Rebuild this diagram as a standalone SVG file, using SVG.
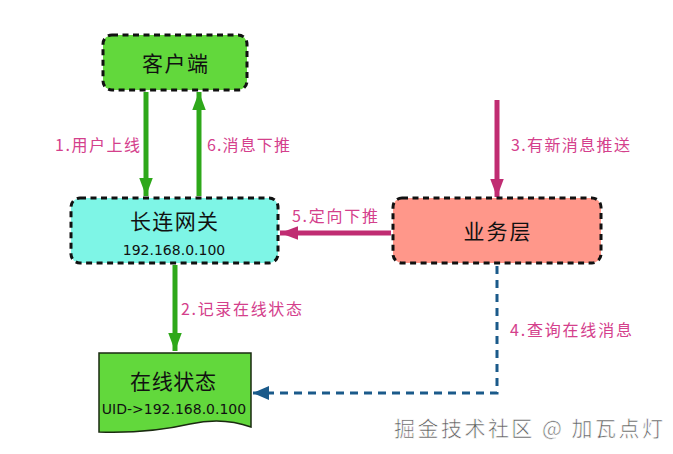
<svg xmlns="http://www.w3.org/2000/svg" width="673" height="454" viewBox="0 0 673 454">
<defs>
<style>
.box{stroke:#111;stroke-width:3;stroke-dasharray:6 4.5}
.nt{font-family:"Noto Sans CJK SC","Noto Sans",sans-serif;font-size:21px;fill:#111;text-anchor:middle}
.ns{font-family:"DejaVu Sans","Noto Sans",sans-serif;font-size:14px;fill:#111;text-anchor:middle}
.lb{font-family:"Noto Sans CJK SC","Noto Sans",sans-serif;font-size:16px;fill:#d4408c}
.g{stroke:#2ea81a;stroke-width:5;fill:none}
.m{stroke:#c02c72;stroke-width:5;fill:none}
.b{stroke:#1a5a8a;stroke-width:3;fill:none;stroke-dasharray:8 6}
</style>
<marker id="ag" markerWidth="18" markerHeight="24" refX="24" refY="9" viewBox="0 0 24 18" orient="auto" markerUnits="userSpaceOnUse"><path d="M0,0 L24,9 L0,18 Z" fill="#2ea81a"/></marker>
<marker id="am" markerWidth="18" markerHeight="24" refX="24" refY="9" viewBox="0 0 24 18" orient="auto" markerUnits="userSpaceOnUse"><path d="M0,0 L24,9 L0,18 Z" fill="#c02c72"/></marker>
<marker id="ab" markerWidth="16" markerHeight="14" refX="16" refY="7" viewBox="0 0 16 14" orient="auto" markerUnits="userSpaceOnUse"><path d="M0,0 L16,7 L0,14 Z" fill="#1a5a8a"/></marker>
</defs>
<rect width="673" height="454" fill="#fff"/>
<g id="connectors">
<line class="g" x1="146" y1="92" x2="146" y2="196" marker-end="url(#ag)"/>
<line class="g" x1="199" y1="196" x2="199" y2="92" marker-end="url(#ag)"/>
<line class="g" x1="175" y1="265" x2="175" y2="351" marker-end="url(#ag)"/>
<line class="m" x1="497" y1="100" x2="497" y2="197" marker-end="url(#am)"/>
<line class="m" x1="391" y1="233" x2="280" y2="233" marker-end="url(#am)"/>
<polyline class="b" points="497,266 497,393 253,393" marker-end="url(#ab)"/>
<text class="lb" x="55" y="151" textLength="85" lengthAdjust="spacing">1.用户上线</text>
<text class="lb" x="207" y="151" textLength="83" lengthAdjust="spacing">6.消息下推</text>
<text class="lb" x="511" y="151" textLength="119" lengthAdjust="spacing">3.有新消息推送</text>
<text class="lb" x="292" y="222" textLength="86" lengthAdjust="spacing">5.定向下推</text>
<text class="lb" x="181" y="315" textLength="121" lengthAdjust="spacing">2.记录在线状态</text>
<text class="lb" x="510" y="336" textLength="122" lengthAdjust="spacing">4.查询在线消息</text>
</g>
<g id="client">
<rect class="box" x="103" y="35" width="144" height="55" rx="9" fill="#62d83c"/>
<text class="nt" x="175" y="71" textLength="66" lengthAdjust="spacing">客户端</text>
</g>
<g id="gateway">
<rect class="box" x="71" y="198" width="207" height="65" rx="9" fill="#7ef5e6"/>
<text class="nt" x="174" y="229" textLength="88" lengthAdjust="spacing">长连网关</text>
<text class="ns" x="174" y="255">192.168.0.100</text>
</g>
<g id="business">
<rect class="box" x="393" y="198" width="208" height="65" rx="9" fill="#ff978a"/>
<text class="nt" x="497" y="239" textLength="67" lengthAdjust="spacing">业务层</text>
</g>
<g id="state">
<path d="M99,353 H251 V427 C232,420 212,419 190,424 C160,431 130,433 99,432 Z" fill="#62d83c" stroke="#1a2a10" stroke-width="1.5"/>
<text class="nt" x="173" y="389" textLength="86" lengthAdjust="spacing">在线状态</text>
<text class="ns" x="174" y="414">UID-&gt;192.168.0.100</text>
</g>
<text x="394" y="436" textLength="269" lengthAdjust="spacing" font-family="Noto Sans CJK SC, sans-serif" font-size="21" fill="#5a5a5a" stroke="#fff" stroke-width="0.6">掘金技术社区 @ 加瓦点灯</text>
</svg>
